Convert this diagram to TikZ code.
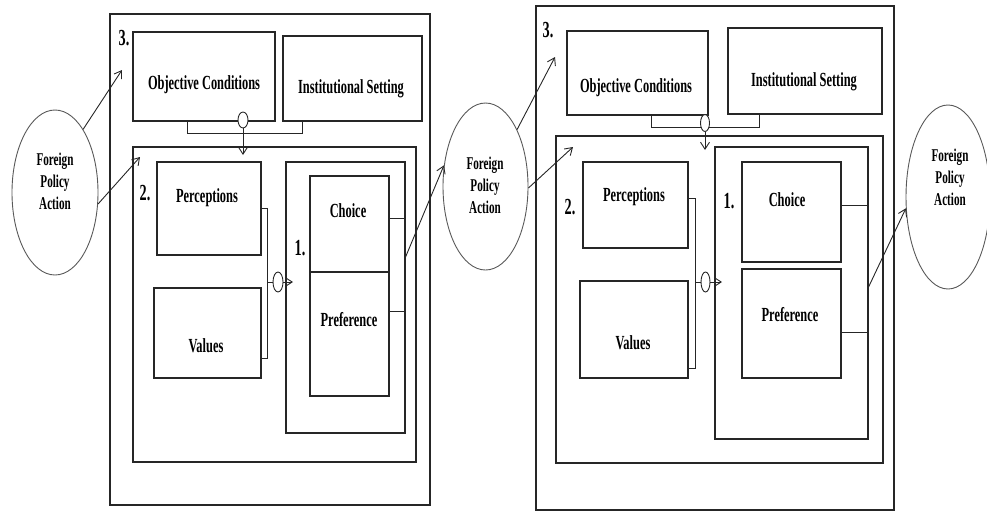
\documentclass[tikz,border=0pt]{standalone}
\usepackage{fontspec}
\setmainfont{Liberation Serif}
\usepackage{graphicx}
\usetikzlibrary{shapes.geometric,arrows.meta,fit}
\newcommand\sq[1]{\scalebox{0.62}[1]{#1}}
\begin{document}
\begin{tikzpicture}[x=1pt,y=-1pt,
  box/.style={draw=black!85, line width=1.1pt, inner sep=0pt},
  lbl/.style={font=\fontsize{20}{22}\selectfont\bfseries, inner sep=0pt},
  num/.style={font=\fontsize{23}{24}\selectfont\bfseries, inner sep=0pt},
  fpa/.style={draw=black!65, line width=0.9pt, ellipse, inner sep=0pt},
  fpatext/.style={font=\fontsize{18}{22}\selectfont\bfseries, inner sep=0pt},
  conn/.style={draw=black!85, line width=0.9pt},
  arr/.style={conn, -{Straight Barb[length=7pt,width=9pt]}},
  knot/.style={draw=black!85, line width=0.9pt, fill=white, ellipse, inner sep=0pt},
]
\useasboundingbox (0,0) rectangle (987,512);

% ---------- Left diagram ----------
\node[box, fit={(110,14)(430,505)}] (L3) {};
\node[box, fit={(133,32)(275,121)}] (LOC) {};
\node[box, fit={(283,36)(422,121)}] (LIS) {};
\node[box, fit={(133,147)(416,462)}] (L2) {};
\node[box, fit={(157,162)(261,255)}] (LP) {};
\node[box, fit={(154,288)(261,378)}] (LV) {};
\node[box, fit={(286,162)(405,433)}] (L1) {};
\node[box, fit={(310,176)(389,272)}] (LC) {};
\node[box, fit={(310,272)(389,396)}] (LPr) {};

\node[lbl] (tLOC) at (204,85) {\sq{Objective Conditions}};
\node[lbl] (tLIS) at (351,89) {\sq{Institutional Setting}};
\node[lbl] (tLP) at (207,198) {\sq{Perceptions}};
\node[lbl] (tLV) at (206,346) {\sq{Values}};
\node[lbl] (tLC) at (348,211) {\sq{Choice}};
\node[lbl] (tLPr) at (349,320) {\sq{Preference}};
\node[num] (nL3) at (124,38) {\sq{3.}};
\node[num] (nL2) at (145,193) {\sq{2.}};
\node[num] (nL1) at (300,248) {\sq{1.}};

% top bracket
\draw[conn] (LOC.south west) ++(55,0) -- ++(0,12) -| ([xshift=20pt]LIS.south west);
\node[knot, minimum width=10pt, minimum height=16pt] (kLt) at (243,120) {};
\coordinate (kLtend) at (243,155);
\draw[arr] (kLt.south) -- (kLtend);

% middle bracket
\draw[conn] (LP.east) -- ++(6,0) |- ([yshift=-25pt]LV.east);
\node[knot, minimum width=10pt, minimum height=20pt] (kLm) at (278,282) {};
\draw[conn] (kLm.west) -- ++(-6,0);
\coordinate (kLmend) at (293,282);
\draw[arr] (kLm.east) -- (kLmend);

% choice / preference links
\draw[conn] (LC.east) ++(0,-6) coordinate (lca) -- (lca -| L1.east);
\draw[conn] (LPr.east) ++(0,-23) coordinate (lpa) -- (lpa -| L1.east);

% left ellipse
\node[fpa, minimum width=86pt, minimum height=165pt] (E1) at (55,192.5) {};
\node[fpatext] (tE1) at (55,183) {\sq{\begin{tabular}{@{}c@{}}Foreign\\Policy\\Action\end{tabular}}};
\coordinate (aL3) at (122,70);
\coordinate (aL2) at (140,157);
\draw[arr] (E1.66) -- (aL3);
\draw[arr] (E1.-15) -- (aL2);

% middle ellipse
\node[fpa, minimum width=85pt, minimum height=167pt] (E2) at (485.5,186.5) {};
\node[fpatext] (tE2) at (485,187) {\sq{\begin{tabular}{@{}c@{}}Foreign\\Policy\\Action\end{tabular}}};
\draw[arr] (L1.east) ++(0,-40.5) -- (E2.153);

% ---------- Right diagram ----------
\node[box, fit={(536,6)(894,510)}] (R3) {};
\node[box, fit={(567,31)(708,115)}] (ROC) {};
\node[box, fit={(728,28)(882,114)}] (RIS) {};
\node[box, fit={(556,136)(883,463)}] (R2) {};
\node[box, fit={(583,162)(688,248)}] (RP) {};
\node[box, fit={(580,281)(688,378)}] (RV) {};
\node[box, fit={(715,147)(868,439)}] (R1) {};
\node[box, fit={(742,162)(841,262)}] (RC) {};
\node[box, fit={(742,269)(841,378)}] (RPr) {};

\node[lbl] (tROC) at (636,88) {\sq{Objective Conditions}};
\node[lbl] (tRIS) at (804,82) {\sq{Institutional Setting}};
\node[lbl] (tRP) at (634,197) {\sq{Perceptions}};
\node[lbl] (tRV) at (633,343) {\sq{Values}};
\node[lbl] (tRC) at (787,200) {\sq{Choice}};
\node[lbl] (tRPr) at (790,315) {\sq{Preference}};
\node[num] (nR3) at (548,30) {\sq{3.}};
\node[num] (nR2) at (570,207) {\sq{2.}};
\node[num] (nR1) at (729,201) {\sq{1.}};

\coordinate (aR3) at (555,57);
\coordinate (aR2) at (573,147);
\draw[arr] (E2.61) -- (aR3);
\draw[arr] (E2.-2) -- (aR2);

% top bracket
\draw[conn] (ROC.south west) ++(85,0) -- ++(0,12) -| ([xshift=32pt]RIS.south west);
\node[knot, minimum width=9pt, minimum height=17pt] (kRt) at (705,123) {};
\coordinate (kRtend) at (705,150);
\draw[arr] (kRt.south) -- (kRtend);

% middle bracket
\draw[conn] (RP.east) ++(0,-7) -- ++(7,0) |- ([yshift=-38.5pt]RV.east);
\node[knot, minimum width=9pt, minimum height=20pt] (kRm) at (705.5,282) {};
\draw[conn] (kRm.west) -- ++(-6,0);
\coordinate (kRmend) at (722,282);
\draw[arr] (kRm.east) -- (kRmend);

% choice / preference links
\draw[conn] (RC.east) ++(0,-7) coordinate (rca) -- (rca -| R1.east);
\draw[conn] (RPr.east) ++(0,8.5) coordinate (rpa) -- (rpa -| R1.east);

% right ellipse
\node[fpa, minimum width=84pt, minimum height=184pt] (E3) at (948,197) {};
\node[fpatext] (tE3) at (950,179) {\sq{\begin{tabular}{@{}c@{}}Foreign\\Policy\\Action\end{tabular}}};
\draw[arr] (R1.east) ++(0,-6) -- (E3.195);

\end{tikzpicture}
\end{document}
